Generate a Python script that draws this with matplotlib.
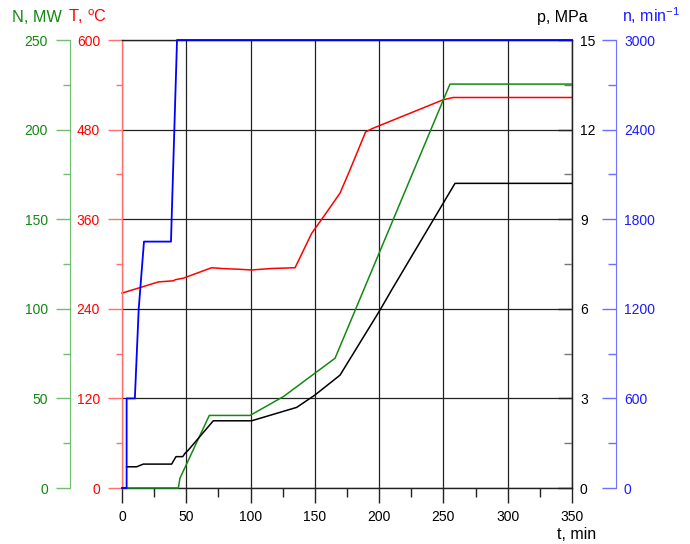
import matplotlib.pyplot as plt
import numpy as np

plt.rcParams['font.family'] = ['Liberation Sans', 'DejaVu Sans']
plt.rcParams['mathtext.fontset'] = 'custom'
plt.rcParams['mathtext.rm'] = 'Liberation Sans'

# time, min
t_n = [0, 3.6, 3.6, 10, 13, 17.1, 38.1, 38.6, 40.7, 42.8, 350]
# rotor speed n, 1/min
n_val = [0, 0, 600, 600, 1200, 1650, 1650, 1800, 2400, 3000, 3000]

t_T = [0, 28.3, 40, 41.5, 47.7, 69.7, 77.5, 90.5, 100.8, 116.4, 134.6, 147.5,
       156.6, 169.6, 177.3, 189.5, 195.5, 249.9, 257.7, 350]
# temperature T, C
T_val = [261, 276, 277.5, 279, 281, 295, 294, 293, 292, 294, 295, 341,
         363, 395, 426, 477, 482, 520, 523, 523]

t_N = [0, 43.8, 45.1, 67.9, 99.6, 125.5, 165.7, 255.1, 350]
# power N, MW
N_val = [0, 0, 5.5, 40.5, 40.5, 51, 72.4, 225.4, 225.4]

t_p = [3.6, 11.4, 16.6, 38.6, 42, 47.2, 49, 51.6, 71, 100.8, 135.9, 150,
       169.6, 200.7, 209.7, 259, 350]
# pressure p, MPa
p_val = [0.71, 0.71, 0.8, 0.8, 1.05, 1.05, 1.16, 1.27, 2.25, 2.25, 2.7, 3.11,
         3.78, 5.96, 6.63, 10.2, 10.2]

W, H = 690, 544
PT = 0.72  # points per pixel at dpi 100

fig = plt.figure(figsize=(W / 100, H / 100), dpi=100)
ax = fig.add_axes([122 / W, 56 / H, 450 / W, 448 / H])

c_red, c_red_l = '#ff0000', '#ff7070'
c_grn, c_grn_l = '#118811', '#6fbf6f'
c_blu, c_blu_l = '#1a1aff', '#7070ff'

# red T axis (main)
ax.set_xlim(0, 350)
ax.set_ylim(0, 600)
ax.set_xticks(range(0, 351, 50))
ax.set_xticks(range(25, 350, 50), minor=True)
ax.set_yticks(range(0, 601, 120))
ax.set_yticks(range(60, 600, 120), minor=True)
ax.grid(True, which='major', color='#222222', lw=0.9)
ax.tick_params(axis='x', which='major', direction='out', length=15 * PT, width=1,
               color='#222222', labelsize=10, pad=5)
ax.tick_params(axis='x', which='minor', direction='out', length=9 * PT, width=1,
               color='#222222')
ax.tick_params(axis='y', which='major', direction='out', length=14 * PT, width=1,
               color=c_red_l, labelcolor=c_red, labelsize=10, pad=8 * PT)
ax.tick_params(axis='y', which='minor', direction='out', length=6 * PT, width=1,
               color=c_red_l)
ax.spines['left'].set_color(c_red_l)
ax.spines['left'].set_linewidth(1)
for s in ['top', 'bottom', 'right']:
    ax.spines[s].set_color('#222222')
    ax.spines[s].set_linewidth(1)

# green N axis
ax_N = ax.twinx()
ax_N.set_ylim(0, 250)
ax_N.yaxis.set_ticks_position('left')
ax_N.spines['left'].set_position(('outward', 52 * PT))
ax_N.spines['left'].set_visible(True)
ax_N.spines['left'].set_color(c_grn_l)
for s in ['top', 'bottom', 'right']:
    ax_N.spines[s].set_visible(False)
ax_N.set_yticks(range(0, 251, 50))
ax_N.set_yticks(range(25, 250, 50), minor=True)
ax_N.tick_params(axis='y', which='major', direction='out', length=14 * PT, width=1,
                 color=c_grn_l, labelcolor=c_grn, labelsize=10, pad=8 * PT)
ax_N.tick_params(axis='y', which='minor', direction='out', length=7 * PT, width=1,
                 color=c_grn_l)

# black p axis
ax_p = ax.twinx()
ax_p.set_ylim(0, 15)
ax_p.set_yticks(range(0, 16, 3))
ax_p.set_yticks(np.arange(1.5, 15, 3), minor=True)
for s in ['top', 'bottom', 'left']:
    ax_p.spines[s].set_visible(False)
ax_p.spines['right'].set_color('#222222')
ax_p.tick_params(axis='y', which='major', direction='in', length=14 * PT, width=1,
                 color='#222222', labelcolor='black', labelsize=10, pad=8 * PT)
ax_p.tick_params(axis='y', which='minor', direction='in', length=8 * PT, width=1,
                 color='#777777')

# blue n axis
ax_n = ax.twinx()
ax_n.set_ylim(0, 3000)
ax_n.spines['right'].set_position(('outward', 44 * PT))
ax_n.spines['right'].set_color(c_blu_l)
for s in ['top', 'bottom', 'left']:
    ax_n.spines[s].set_visible(False)
ax_n.set_yticks(range(0, 3001, 600))
ax_n.set_yticks(range(300, 3000, 600), minor=True)
ax_n.tick_params(axis='y', which='major', direction='in', length=14 * PT, width=1,
                 color=c_blu_l, labelcolor=c_blu, labelsize=10, pad=8 * PT)
ax_n.tick_params(axis='y', which='minor', direction='in', length=8 * PT, width=1,
                 color=c_blu_l)

# curves
ax_p.plot(t_p, p_val, color='black', lw=1.1, clip_on=False)
ax_N.plot(t_N, N_val, color='#138a13', lw=1.1, clip_on=False)
ax.plot(t_T, T_val, color=c_red, lw=1.1, clip_on=False)
ax_n.plot(t_n, n_val, color='#0000ff', lw=1.3, clip_on=False)

# axis titles
fig.text(12 / W, 1 - 22.5 / H, 'N, MW', color=c_grn, fontsize=11.7, va='baseline')
fig.text(68 / W, 1 - 22.5 / H, r'T, $\mathregular{^o}$C', color=c_red, fontsize=11.7,
         va='baseline')
fig.text(537 / W, 1 - 22 / H, 'p, MPa', color='black', fontsize=11.5, va='baseline')
fig.text(622 / W, 1 - 22 / H, r'n, min$\mathregular{^{-1}}$', color=c_blu, fontsize=11.5,
         va='baseline')
fig.text(557 / W, 1 - 539 / H, 't, min', color='black', fontsize=11.5, va='baseline')

fig.savefig('out.png', dpi=100)
